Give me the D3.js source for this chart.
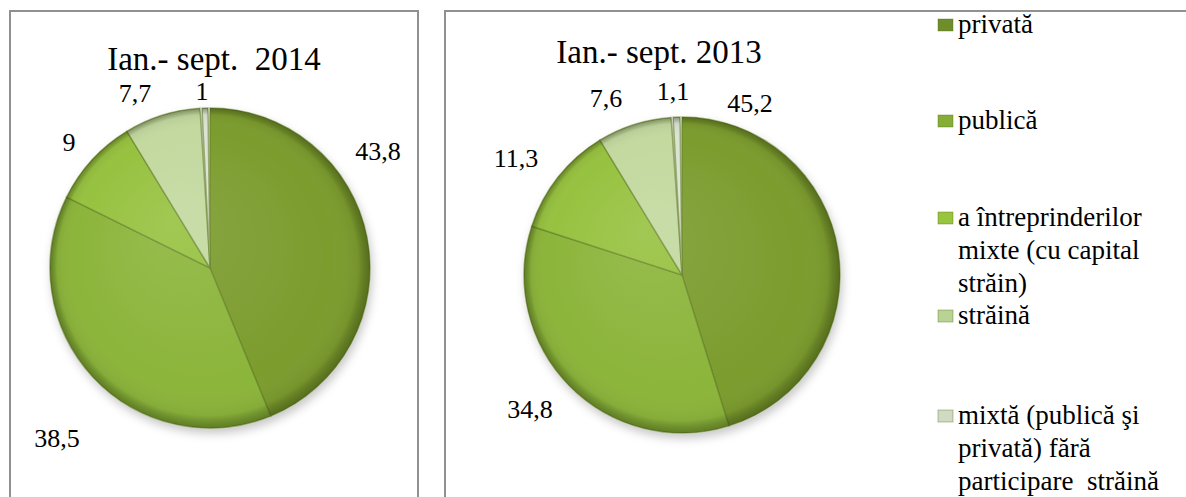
<!DOCTYPE html>
<html>
<head>
<meta charset="utf-8">
<script src="https://cdn.jsdelivr.net/npm/d3@7"></script>
<style>
  body { margin: 0; background: #fff; }
</style>
</head>
<body>
<div id="chart"></div>
<script>
// Chart data
const categories = ["privată", "publică", "a întreprinderilor mixte (cu capital străin)", "străină",
  "mixtă (publică şi privată) fără participare  străină"];
const legendLines = [
  ["privată"],
  ["publică"],
  ["a întreprinderilor", "mixte (cu capital", "străin)"],
  ["străină"],
  ["mixtă (publică şi", "privată) fără", "participare  străină"]
];
const values2014 = [43.8, 38.5, 9, 7.7, 1];
const values2013 = [45.2, 34.8, 11.3, 7.6, 1.1];
const labels2014 = ["43,8", "38,5", "9", "7,7", "1"];
const labels2013 = ["45,2", "34,8", "11,3", "7,6", "1,1"];
const titles = ["Ian.- sept.  2014", "Ian.- sept. 2013"];

// Layout
const width = 1186;
const height = 497;
const font = "'Liberation Serif', 'Times New Roman', serif";
const sliceColors = ["#7c9c2f", "#8cb53a", "#97c240", "#c3d99f", "#dbe3d2"];
const legendColors = ["#6f8e2b", "#86ad35", "#99c43f", "#b9d395", "#d0dac4"];

// label centres, offset from pie centre
const labelOffsets2014 = [[168, -117], [-153, 170], [-141, -126], [-75, -175], [-8, -177]];
const labelOffsets2013 = [[68, -172], [-152, 134], [-166, -117], [-76, -177], [-9, -184]];

const pies = [
  { title: titles[0], values: values2014, labels: labels2014, offsets: labelOffsets2014,
    cx: 210, cy: 268, r: 160, titleX: 214, titleY: 70 },
  { title: titles[1], values: values2013, labels: labels2013, offsets: labelOffsets2013,
    cx: 682, cy: 275, r: 158, titleX: 659, titleY: 63 }
];

const svg = d3.select("#chart")
  .append("svg")
  .attr("width", width)
  .attr("height", height);

const defs = svg.append("defs");

defs.append("filter")
  .attr("id", "shadow")
  .attr("x", "-20%").attr("y", "-20%")
  .attr("width", "140%").attr("height", "140%")
  .append("feDropShadow")
  .attr("dx", 2).attr("dy", 5)
  .attr("stdDeviation", 5)
  .attr("flood-color", "#000")
  .attr("flood-opacity", 0.22);

// Frames
svg.append("rect")
  .attr("x", 10).attr("y", 11)
  .attr("width", 408).attr("height", 520)
  .attr("fill", "none")
  .attr("stroke", "#909090")
  .attr("stroke-width", 2);

svg.append("rect")
  .attr("x", 445).attr("y", 11)
  .attr("width", 800).attr("height", 520)
  .attr("fill", "none")
  .attr("stroke", "#909090")
  .attr("stroke-width", 2);

const pie = d3.pie().sort(null).value((d) => d);

pies.forEach((p, pi) => {
  const arcs = pie(p.values);
  const arc = d3.arc()
    .innerRadius(0)
    .outerRadius(p.r)
    .padAngle((d) => (d.index === arcs.length - 1 ? 0.025 : 0));

  // shading gradient for bevel look
  const grad = defs.append("radialGradient")
    .attr("id", `shade${pi}`)
    .attr("gradientUnits", "userSpaceOnUse")
    .attr("cx", 0).attr("cy", 0).attr("r", p.r)
    .attr("fx", -p.r * 0.25).attr("fy", -p.r * 0.3);
  grad.append("stop").attr("offset", "0%").attr("stop-color", "#fff").attr("stop-opacity", 0.1);
  grad.append("stop").attr("offset", "80%").attr("stop-color", "#fff").attr("stop-opacity", 0);
  grad.append("stop").attr("offset", "94%").attr("stop-color", "#000").attr("stop-opacity", 0.05);
  grad.append("stop").attr("offset", "100%").attr("stop-color", "#1e2a00").attr("stop-opacity", 0.4);

  const g = svg.append("g")
    .attr("transform", `translate(${p.cx}, ${p.cy})`);

  const slices = g.append("g").attr("filter", "url(#shadow)");

  slices.selectAll(".slice")
    .data(arcs)
    .enter()
    .append("path")
    .attr("class", "slice")
    .attr("d", arc)
    .attr("fill", (d, i) => sliceColors[i])
    .attr("stroke", "#5f7a22")
    .attr("stroke-opacity", 0.55)
    .attr("stroke-width", 1.5);

  g.selectAll(".shade")
    .data(arcs)
    .enter()
    .append("path")
    .attr("class", "shade")
    .attr("d", arc)
    .attr("fill", `url(#shade${pi})`);

  // Data labels
  g.selectAll(".label")
    .data(arcs)
    .enter()
    .append("text")
    .attr("class", "label")
    .attr("x", (d, i) => p.offsets[i][0])
    .attr("y", (d, i) => p.offsets[i][1])
    .attr("dy", "0.35em")
    .attr("text-anchor", "middle")
    .attr("font-family", font)
    .attr("font-size", 26)
    .text((d, i) => p.labels[i]);

  svg.append("text")
    .attr("x", p.titleX)
    .attr("y", p.titleY)
    .attr("text-anchor", "middle")
    .attr("font-family", font)
    .attr("font-size", 33)
    .attr("xml:space", "preserve")
    .style("white-space", "pre")
    .text(p.title);
});

// Legend
const legendTop = [33, 129, 226, 324, 424];
const lineHeight = 33;

const legend = svg.append("g").attr("id", "legend");

const items = legend.selectAll(".item")
  .data(categories)
  .enter()
  .append("g")
  .attr("class", "item")
  .attr("transform", (d, i) => `translate(0, ${legendTop[i]})`);

items.append("rect")
  .attr("x", 938)
  .attr("y", -14)
  .attr("width", 15)
  .attr("height", 12)
  .attr("fill", (d, i) => legendColors[i])
  .attr("stroke", "#55701c")
  .attr("stroke-opacity", 0.4)
  .attr("stroke-width", 1);

items.append("text")
  .attr("x", 958)
  .attr("font-family", font)
  .attr("font-size", 27)
  .style("white-space", "pre")
  .selectAll("tspan")
  .data((d, i) => legendLines[i])
  .enter()
  .append("tspan")
  .attr("x", 958)
  .attr("y", (d, j) => j * lineHeight)
  .text((d) => d);
</script>
</body>
</html>
